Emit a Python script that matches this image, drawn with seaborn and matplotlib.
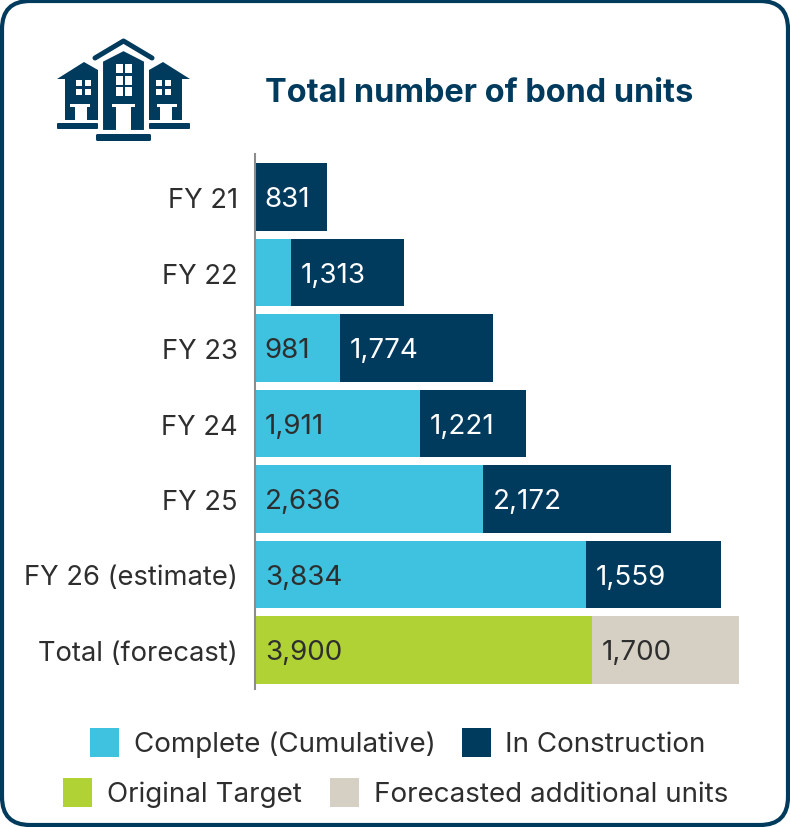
import matplotlib
matplotlib.use("Agg")
import matplotlib.pyplot as plt
import seaborn as sns
import pandas as pd
from matplotlib.patches import Rectangle, Polygon, FancyBboxPatch

W, H = 790, 828

years = ["FY 21", "FY 22", "FY 23", "FY 24", "FY 25", "FY 26 (estimate)", "Total (forecast)"]
first_part = [0, 415, 981, 1911, 2636, 3834, 3900]
second_part = [831, 1313, 1774, 1221, 2172, 1559, 1700]
first_labels = [None, None, "981", "1,911", "2,636", "3,834", "3,900"]
second_labels = ["831", "1,313", "1,774", "1,221", "2,172", "1,559", "1,700"]

BLUE = "#3FC1E0"
NAVY = "#003A5D"
GREEN = "#B1D235"
BEIGE = "#D6D0C4"
DARK = "#2E2E2E"

sns.set_theme(style="white")
plt.rcParams["font.family"] = ["Inter", "DejaVu Sans"]

df = pd.DataFrame({"year": years, "first": first_part, "second": second_part})
df["total"] = df["first"] + df["second"]

fig = plt.figure(figsize=(W / 100, H / 100), dpi=100, facecolor="white")

# overlay in pixel coords for frame, icon and legend
bg = fig.add_axes([0, 0, 1, 1], zorder=0)
bg.set_xlim(0, W)
bg.set_ylim(H, 0)
bg.axis("off")
bg.add_patch(FancyBboxPatch((30, 30), W - 60, H - 60, boxstyle="round,pad=28,rounding_size=28",
                            fc="white", ec=NAVY, lw=3))

# bars, total drawn first and the first part on top of it
ax = fig.add_axes([255 / W, 1 - 690 / H, (739 - 255) / W, (690 - 155) / H], zorder=1)
ax.patch.set_alpha(0)
sns.barplot(data=df, y="year", x="total", hue="year", width=0.9, dodge=False, legend=False, ax=ax,
            palette=[NAVY] * 6 + [BEIGE], saturation=1, linewidth=0)
sns.barplot(data=df, y="year", x="first", hue="year", width=0.9, dodge=False, legend=False, ax=ax,
            palette=[BLUE] * 6 + [GREEN], saturation=1, linewidth=0)
ax.set_xlim(0, 5600)
ax.set_ylim(6.517, -0.57)
ax.set_xlabel("")
ax.set_ylabel("")
ax.set_xticks([])
ax.tick_params(axis="y", length=0, pad=12.5, labelsize=19.7, labelcolor=DARK)
sns.despine(ax=ax, left=False, bottom=True)
ax.spines["left"].set_color("#8C8C8C")
ax.spines["left"].set_linewidth(1.5)

for i in range(len(years)):
    if first_labels[i]:
        ax.annotate(first_labels[i], (0, i), xytext=(7, -1.5), textcoords="offset points",
                    va="center", ha="left", fontsize=20, color=DARK)
    c = DARK if i == 6 else "white"
    ax.annotate(second_labels[i], (first_part[i], i), xytext=(7, -1.5), textcoords="offset points",
                va="center", ha="left", fontsize=20, color=c)

bg.text(265, 93, "Total number of bond units", fontsize=23.4, fontweight="bold", color=NAVY,
        va="center", ha="left")

# building icon
def house(bg, cx, flip):
    def px(x):
        return cx + flip * x
    bg.add_patch(Polygon([(px(-27), 80), (px(0), 63), (px(14), 71), (px(14), 121), (px(-19), 121), (px(-19), 80)],
                         fc=NAVY, ec="none"))
    bg.add_patch(Rectangle((min(px(-14), px(6)), 105), 20, 3, fc="white", ec="none"))
    bg.add_patch(Rectangle((min(px(-9), px(3)), 108), 12, 14, fc="white", ec="none"))
    for wx in (-8, 1):
        for wy in (81, 90):
            bg.add_patch(Rectangle((min(px(wx), px(wx + 6)), wy), 6, 6, fc="white", ec="none"))
    bg.add_patch(FancyBboxPatch((min(px(-27), px(14)) + 1, 125), 39, 4, boxstyle="round,pad=1,rounding_size=1",
                                fc=NAVY, ec="none"))

house(bg, 84, 1)
house(bg, 163, -1)
bg.add_patch(Polygon([(102, 62), (123.5, 51), (145, 62), (145, 132), (102, 132)], fc=NAVY, ec="white", lw=1.5))
bg.plot([95, 123.5, 152], [59, 42, 59], color=NAVY, lw=3.6, solid_capstyle="round")
bg.add_patch(Rectangle((112, 105), 23, 3, fc="white", ec="none"))
bg.add_patch(Rectangle((116, 108), 15, 25, fc="white", ec="none"))
for wx in (116, 125):
    for wy in (65, 77, 88):
        bg.add_patch(Rectangle((wx, wy), 6.5, 8.5, fc="white", ec="none"))
bg.add_patch(FancyBboxPatch((97, 136), 53, 5, boxstyle="round,pad=1,rounding_size=1.5", fc=NAVY, ec="none"))

# legend
legend_items = [
    (90, 729, BLUE, 134, 745, "Complete (Cumulative)"),
    (462, 729, NAVY, 505, 745, "In Construction"),
    (63, 779, GREEN, 107, 795, "Original Target"),
    (330, 779, BEIGE, 374, 795, "Forecasted additional units"),
]
for sx, sy, col, tx, ty, name in legend_items:
    bg.add_patch(Rectangle((sx, sy), 29, 29, fc=col, ec="none"))
    bg.text(tx, ty, name, fontsize=20, color=DARK, va="center", ha="left")

fig.savefig("out.png", dpi=100)
